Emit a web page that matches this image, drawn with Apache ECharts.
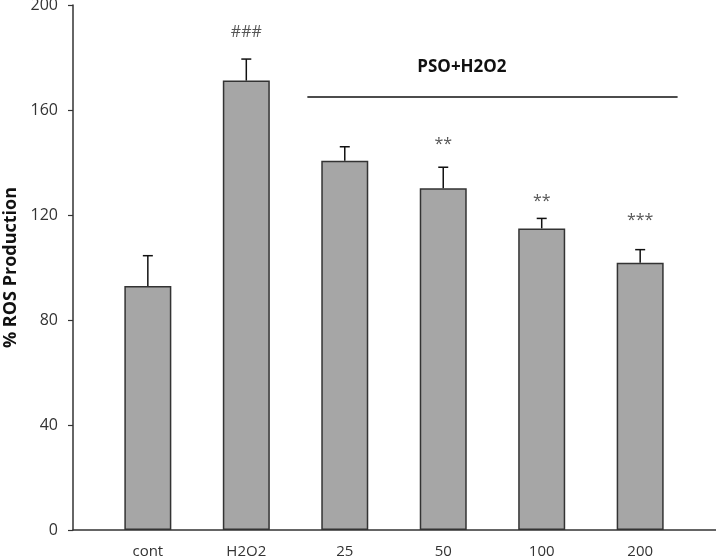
<!DOCTYPE html>
<html>
<head>
<meta charset="utf-8">
<script src="https://cdn.jsdelivr.net/npm/echarts@6/dist/echarts.min.js"></script>
<style>
html,body{margin:0;padding:0;background:#fff;}
#chart{width:716px;height:560px;}
</style>
</head>
<body>
<div id="chart"></div>
<script>
const categories = ['cont', 'H2O2', '25', '50', '100', '200'];
const means = [93.0, 171.2, 140.7, 130.2, 114.9, 101.8];
const sd = [11.5, 8.2, 5.3, 8.0, 3.8, 5.0];
const sigMarks = ['', '###', '', '**', '**', '***'];
const sigLevels = [null, 189.7, null, 147, 125.3, 118];
const yTicks = [0, 40, 80, 120, 160, 200];
const bracketText = 'PSO+H2O2';
const bracketFrom = 3; // index+1 of '25'
const bracketTo = 6;   // index+1 of '200'
const bracketLevel = 165;
const bracketTextLevel = 176.4;

const FONT = '"Open Sans", "Noto Sans", sans-serif';
const chart = echarts.init(document.getElementById('chart'));

const positions = categories.map((c, i) => i + 1);

chart.setOption({
  animation: false,
  backgroundColor: '#fff',
  grid: { left: 73, right: 0, top: 5, bottom: 30, containLabel: false, outerBoundsMode: 'none' },
  xAxis: {
    type: 'value',
    min: 0.24,
    max: 6.77,
    axisLine: { show: true, lineStyle: { color: '#333', width: 1.5 } },
    axisTick: { show: false },
    splitLine: { show: false },
    axisLabel: {
      customValues: positions,
      formatter: v => categories[Math.round(v) - 1] || '',
      color: '#333',
      fontSize: 15,
      fontFamily: FONT,
      margin: 14
    }
  },
  yAxis: {
    type: 'value',
    min: 0,
    max: 200,
    interval: 40,
    name: '% ROS Production',
    nameLocation: 'middle',
    nameRotate: 90,
    nameGap: 50,
    nameTextStyle: { fontSize: 18, fontWeight: 'bold', color: '#111', fontFamily: FONT },
    axisLine: { show: true, lineStyle: { color: '#333', width: 1.5 } },
    axisTick: { show: true, inside: false, length: 5, lineStyle: { color: '#333', width: 1.2 } },
    splitLine: { show: false },
    axisLabel: { color: '#333', fontSize: 16, fontFamily: FONT, margin: 15 }
  },
  series: [
    {
      type: 'bar',
      barWidth: 47,
      data: positions.map((x, i) => [x, means[i]]),
      itemStyle: { color: '#a6a6a6', borderColor: '#333', borderWidth: 1.5 },
      z: 2
    },
    {
      type: 'custom',
      z: 3,
      data: positions.map((x, i) => [x, means[i], means[i] + sd[i]]),
      renderItem: function (params, api) {
        const x = api.value(0);
        const p0 = api.coord([x, api.value(1)]);
        const p1 = api.coord([x, api.value(2)]);
        const st = { stroke: '#111', lineWidth: 1.5 };
        return {
          type: 'group',
          children: [
            { type: 'line', shape: { x1: p0[0], y1: p0[1], x2: p1[0], y2: p1[1] }, style: st },
            { type: 'line', shape: { x1: p1[0] - 5, y1: p1[1], x2: p1[0] + 5, y2: p1[1] }, style: st }
          ]
        };
      }
    },
    {
      type: 'custom',
      z: 4,
      data: positions.map((x, i) => [x, sigLevels[i] == null ? 0 : sigLevels[i], i]),
      renderItem: function (params, api) {
        const i = api.value(2);
        if (!sigMarks[i]) return null;
        const p = api.coord([api.value(0), api.value(1)]);
        return {
          type: 'text',
          style: {
            text: sigMarks[i], x: p[0], y: p[1],
            align: 'center', verticalAlign: 'middle',
            fill: '#555', fontSize: 16, fontFamily: FONT
          }
        };
      }
    },
    {
      type: 'custom',
      z: 4,
      data: [[bracketFrom, bracketTo, bracketLevel, bracketTextLevel]],
      renderItem: function (params, api) {
        const a = api.coord([api.value(0) - 0.38, api.value(2)]);
        const b = api.coord([api.value(1) + 0.38, api.value(2)]);
        const t = api.coord([(api.value(0) + api.value(1)) / 2 - 0.31, api.value(3)]);
        return {
          type: 'group',
          children: [
            { type: 'line', shape: { x1: a[0], y1: a[1], x2: b[0], y2: b[1] }, style: { stroke: '#111', lineWidth: 1.5 } },
            { type: 'text', style: { text: bracketText, x: t[0], y: t[1], align: 'center', verticalAlign: 'middle', fill: '#111', fontSize: 17, fontWeight: 'bold', fontFamily: FONT } }
          ]
        };
      }
    }
  ]
});
</script>
</body>
</html>
